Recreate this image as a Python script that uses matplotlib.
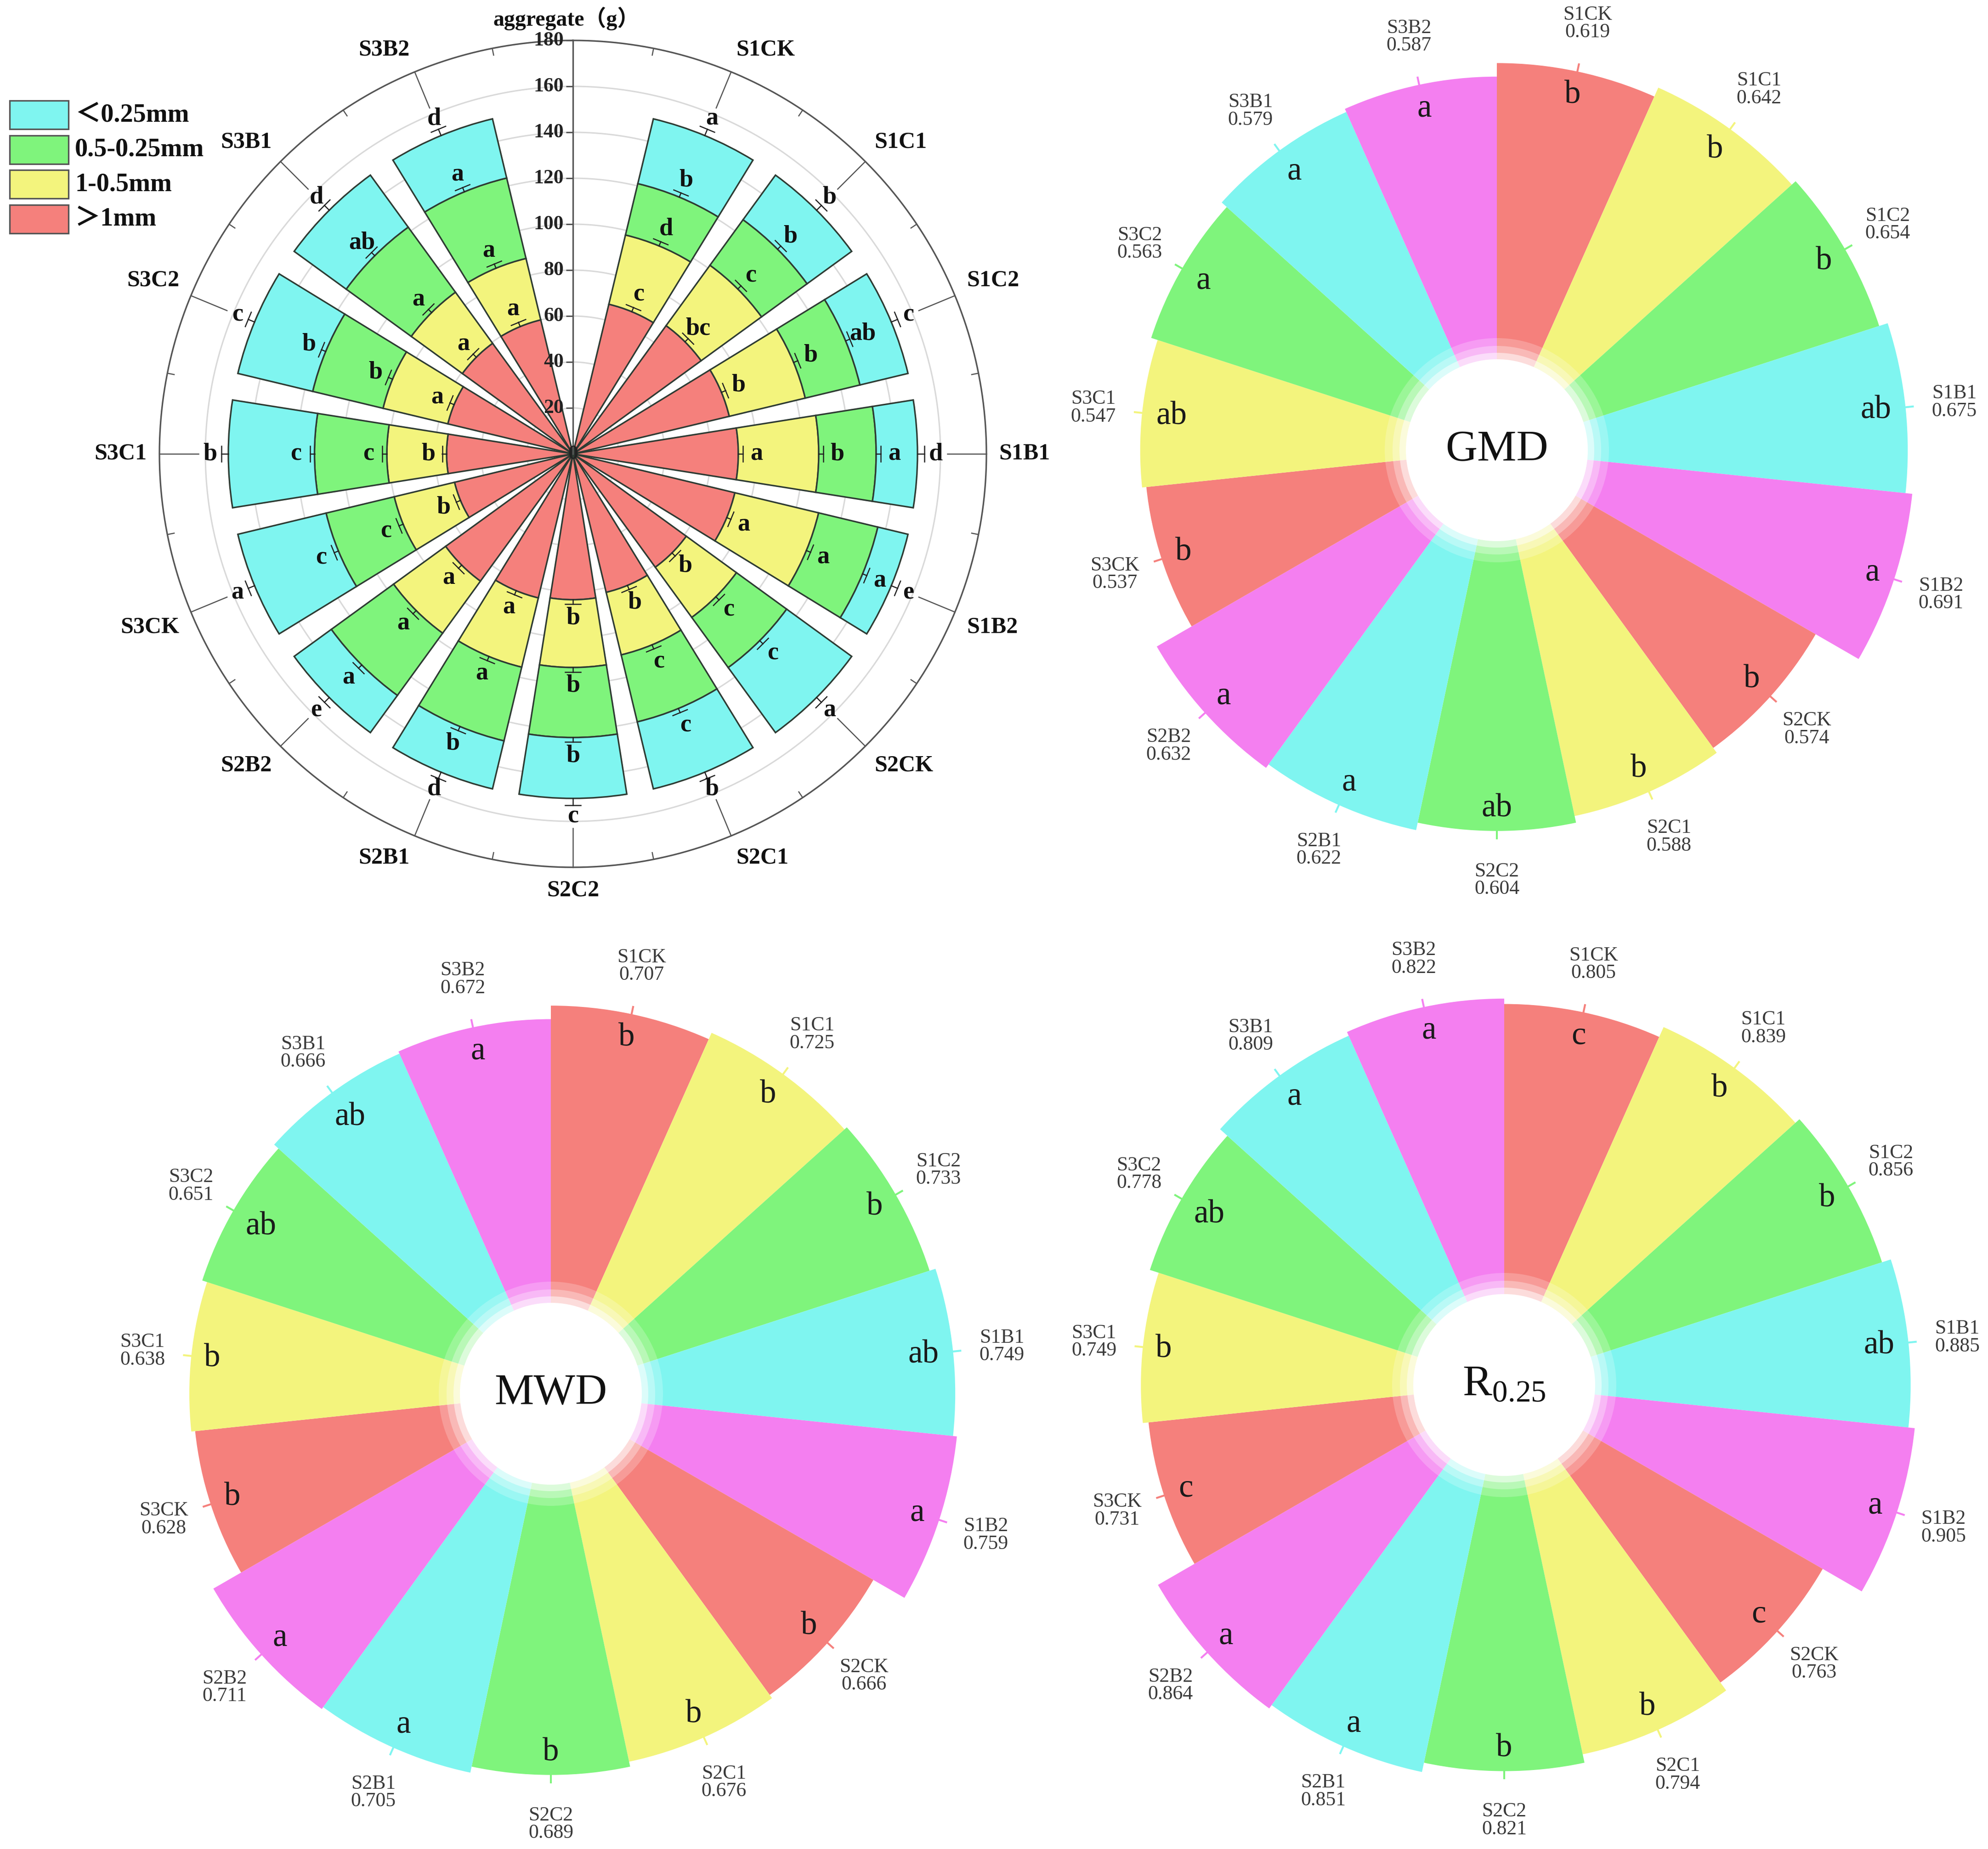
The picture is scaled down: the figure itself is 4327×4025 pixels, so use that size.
import numpy as np
import matplotlib
matplotlib.use("Agg")
import matplotlib.pyplot as plt
from matplotlib.patches import Rectangle
from matplotlib.transforms import offset_copy

plt.rcParams['font.family'] = ['Liberation Serif', 'Noto Sans CJK SC', 'DejaVu Sans']
plt.rcParams['mathtext.fontset'] = 'custom'
plt.rcParams['mathtext.rm'] = 'Liberation Serif'
plt.rcParams['mathtext.it'] = 'Liberation Serif:italic'

# ---------------- data ----------------
categories = ['S1CK', 'S1C1', 'S1C2', 'S1B1', 'S1B2', 'S2CK', 'S2C1', 'S2C2',
              'S2B1', 'S2B2', 'S3CK', 'S3C1', 'S3C2', 'S3B1', 'S3B2']

# aggregate mass (g) per size class
agg_gt1 = [67, 69, 70, 72, 72.5, 61, 62, 63.5, 64.5, 68.5, 53, 55, 56, 59.5, 60]
agg_1_05 = [31, 32.5, 34, 35, 37.5, 27, 28, 29.5, 31, 28, 27, 26, 29, 27.5, 27.5]
agg_05_025 = [23, 24.5, 24.5, 25, 26.5, 27, 30, 30.5, 33, 33.5, 30.5, 31.5, 31.5, 35, 36]
agg_lt025 = [29, 24, 21.5, 18, 13.5, 35, 30, 26.5, 21.5, 20, 39.5, 37.5, 33.5, 28, 26.5]

err_gt1 = [2, 2, 2, 2, 2, 2, 2, 2, 2, 2, 2, 2, 2, 2, 2]
err_1_05 = [2, 2, 2, 2, 2, 2, 2, 2, 2, 2, 2, 2, 2, 2, 2]
err_05_025 = [2, 2, 2, 2, 2, 2, 2, 2, 2, 2, 2, 2, 2, 2, 2]
err_lt025 = [3, 3, 3, 3, 3, 3, 3, 3, 3, 3, 3, 3, 3, 3, 3]

let_gt1 = ['c', 'bc', 'b', 'a', 'a', 'b', 'b', 'b', 'a', 'a', 'b', 'b', 'a', 'a', 'a']
let_1_05 = ['d', 'c', 'b', 'b', 'a', 'c', 'c', 'b', 'a', 'a', 'c', 'c', 'b', 'a', 'a']
let_05_025 = ['b', 'b', 'ab', 'a', 'a', 'c', 'c', 'b', 'b', 'a', 'c', 'c', 'b', 'ab', 'a']
let_lt025 = ['a', 'b', 'c', 'd', 'e', 'a', 'b', 'c', 'd', 'e', 'a', 'b', 'c', 'd', 'd']

size_classes = ['＜0.25mm', '0.5-0.25mm', '1-0.5mm', '＞1mm']
radial_ticks = [20, 40, 60, 80, 100, 120, 140, 160, 180]

gmd = [0.619, 0.642, 0.654, 0.675, 0.691, 0.574, 0.588, 0.604, 0.622, 0.632,
       0.537, 0.547, 0.563, 0.579, 0.587]
gmd_let = ['b', 'b', 'b', 'ab', 'a', 'b', 'b', 'ab', 'a', 'a', 'b', 'ab', 'a', 'a', 'a']
mwd = [0.707, 0.725, 0.733, 0.749, 0.759, 0.666, 0.676, 0.689, 0.705, 0.711,
       0.628, 0.638, 0.651, 0.666, 0.672]
mwd_let = ['b', 'b', 'b', 'ab', 'a', 'b', 'b', 'b', 'a', 'a', 'b', 'b', 'ab', 'ab', 'a']
r025 = [0.805, 0.839, 0.856, 0.885, 0.905, 0.763, 0.794, 0.821, 0.851, 0.864,
        0.731, 0.749, 0.778, 0.809, 0.822]
r025_let = ['c', 'b', 'b', 'ab', 'a', 'c', 'b', 'b', 'a', 'a', 'c', 'b', 'ab', 'a', 'a']

# ---------------- style ----------------
C_RED = '#F5807C'
C_YEL = '#F3F47D'
C_GRN = '#7FF47C'
C_CYN = '#7FF5F0'
C_PNK = '#F47FF0'
seg_colors = [C_RED, C_YEL, C_GRN, C_CYN]
cycle_colors = [C_RED, C_YEL, C_GRN, C_CYN, C_PNK]

W, H, DPI = 4327, 4025, 300
fig = plt.figure(figsize=(W / DPI, H / DPI), dpi=DPI)
fig.patch.set_facecolor('white')


def polar_axes(cx, cy, R):
    ax = fig.add_axes([(cx - R) / W, 1 - (cy + R) / H, 2 * R / W, 2 * R / H],
                      projection='polar')
    ax.set_theta_zero_location('N')
    ax.set_theta_direction(-1)
    ax.set_facecolor('none')
    return ax


# ================= top-left stacked polar bar chart =================
ax0 = polar_axes(1247, 988, 1000)
ax0.set_ylim(0, 200)
ax0.set_axis_off()
n = len(categories)
step = 2 * np.pi / (n + 1)
th = np.array([(i + 1) * step for i in range(n)])
bw = step * 0.8
full = np.linspace(0, 2 * np.pi, 721)
px_per_unit = 1000 / 200.0

# grid circles
for r in radial_ticks[:-1]:
    ax0.plot(full, np.full_like(full, r), color='#d9d9d9', lw=0.75, zorder=0)
ax0.plot(full, np.full_like(full, 180), color='#555555', lw=0.8, zorder=1)
# outer major / minor ticks
for t in th:
    ax0.plot([t, t], [163, 180], color='#555555', lw=0.6, zorder=1)
for k in range(n + 1):
    t = (k + 0.5) * step
    ax0.plot([t, t], [177, 180], color='#555555', lw=0.6, zorder=1)
# radial axis
ax0.plot([0, 0], [0, 180], color='#555555', lw=0.8, zorder=4)
ax0.plot([0] * len(radial_ticks), radial_ticks, ls='none', marker=0, ms=3.6,
         mew=0.7, color='#555555', zorder=4)
lab_tr = offset_copy(ax0.transData, fig=fig, x=-20, y=0, units='dots')
for r in radial_ticks:
    ax0.text(0, r, str(r), transform=lab_tr, ha='right', va='center',
             fontsize=10.5, fontweight='bold', color='#222222')
ax0.text(0, 0, '0', ha='center', va='center', fontsize=10.5,
         fontweight='bold', color='#222222', zorder=6)
title_tr = offset_copy(ax0.transData, fig=fig, x=-14, y=48, units='dots')
ax0.text(0, 180, 'aggregate（g）', transform=title_tr, ha='center', va='center',
         fontsize=11.5, fontweight='bold', color='#111111')

segs = [agg_gt1, agg_1_05, agg_05_025, agg_lt025]
errs = [err_gt1, err_1_05, err_05_025, err_lt025]
lets = [let_gt1, let_1_05, let_05_025, let_lt025]
bottom = np.zeros(n)
for k in range(4):
    vals = np.array(segs[k], dtype=float)
    ax0.bar(th, vals, width=bw, bottom=bottom, color=seg_colors[k],
            edgecolor='#2e3b33', linewidth=0.8, zorder=2)
    top = bottom + vals
    for i in range(n):
        e = errs[k][i]
        rt = top[i] + e
        ax0.plot([th[i], th[i]], [top[i], rt], color='#222222', lw=0.6, zorder=5)
        half = (17.0 / (rt * px_per_unit))
        ax0.plot([th[i] - half, th[i] + half], [rt, rt], color='#222222',
                 lw=0.6, zorder=5)
        ax0.text(th[i], top[i] + 8, lets[k][i], ha='center', va='center',
                 fontsize=13, fontweight='bold', color='#111111', zorder=6)
    bottom = top

# category labels: nearest edge of the label box sits on a fixed circle
for i, name in enumerate(categories):
    s, c = np.sin(th[i]), np.cos(th[i])
    ha = 'left' if s > 0.1 else ('right' if s < -0.1 else 'center')
    va = 'bottom' if c > 0.1 else ('top' if c < -0.1 else 'center')
    ax0.text(th[i], 185.5, name, ha=ha, va=va, fontsize=12,
             fontweight='bold', color='#111111')

# legend (pixel overlay)
ov = fig.add_axes([0, 0, 1, 1])
ov.set_xlim(0, W)
ov.set_ylim(H, 0)
ov.set_axis_off()
ov.patch.set_alpha(0)
leg_cols = [C_CYN, C_GRN, C_YEL, C_RED]
for j, lab in enumerate(size_classes):
    y0 = 219 + j * 75.5
    ov.add_patch(Rectangle((21, y0), 128, 62, facecolor=leg_cols[j],
                           edgecolor='#555555', lw=0.8))
    ov.text(163, y0 + 31, lab, ha='left', va='center', fontsize=13.5,
            fontweight='bold', color='#111111')


# ================= radial single-value charts =================
def radial_chart(cx, cy, a_px, b_px, vals, letters, center_label):
    R = 1000
    ax = polar_axes(cx, cy, R)
    vmin = -a_px / b_px
    ax.set_ylim(vmin, vmin + R / b_px)
    ax.set_axis_off()
    m = len(vals)
    wdt = 2 * np.pi / m
    thc = np.array([(i + 0.5) * wdt for i in range(m)])
    v = np.array(vals)
    cols = [cycle_colors[i % 5] for i in range(m)]
    ax.bar(thc, v - vmin, width=wdt, bottom=vmin, color=cols,
           edgecolor='none', linewidth=0, zorder=2)
    # glow rings and white centre
    for rad, al in [(244, 0.22), (227, 0.30), (212, 0.5), (198, 1.0)]:
        ax.bar(0, rad / b_px, width=2 * np.pi, bottom=vmin, color='white',
               alpha=al, edgecolor='none', zorder=3)
    for i in range(m):
        t = thc[i]
        ax.plot([t, t], [v[i], v[i] + 16 / b_px], color=cols[i], lw=1.0, zorder=3)
        w = 38 * len(letters[i])
        off = 24 + (w / 2) * abs(np.sin(t)) + 25 * abs(np.cos(t))
        ax.text(t, v[i] - off / b_px, letters[i], ha='center', va='center',
                fontsize=17, color='#1a1a1a', zorder=5)
        ax.text(t, v[i] + 107 / b_px, '%s\n%.3f' % (categories[i], v[i]),
                ha='center', va='center', fontsize=10.5, color='#3a3a3a',
                linespacing=0.95, zorder=5)
    ax.text(0, vmin, center_label, ha='center', va='center', fontsize=23,
            color='#111111', zorder=6)
    return ax


radial_chart(3258, 980, 272, 922, gmd, gmd_let, 'GMD')
radial_chart(1199, 3034, 251, 840, mwd, mwd_let, 'MWD')
radial_chart(3274, 3015, 274, 690, r025, r025_let, r'$\mathrm{R}_{0.25}$')

fig.savefig('out.png', dpi=DPI, facecolor='white')
